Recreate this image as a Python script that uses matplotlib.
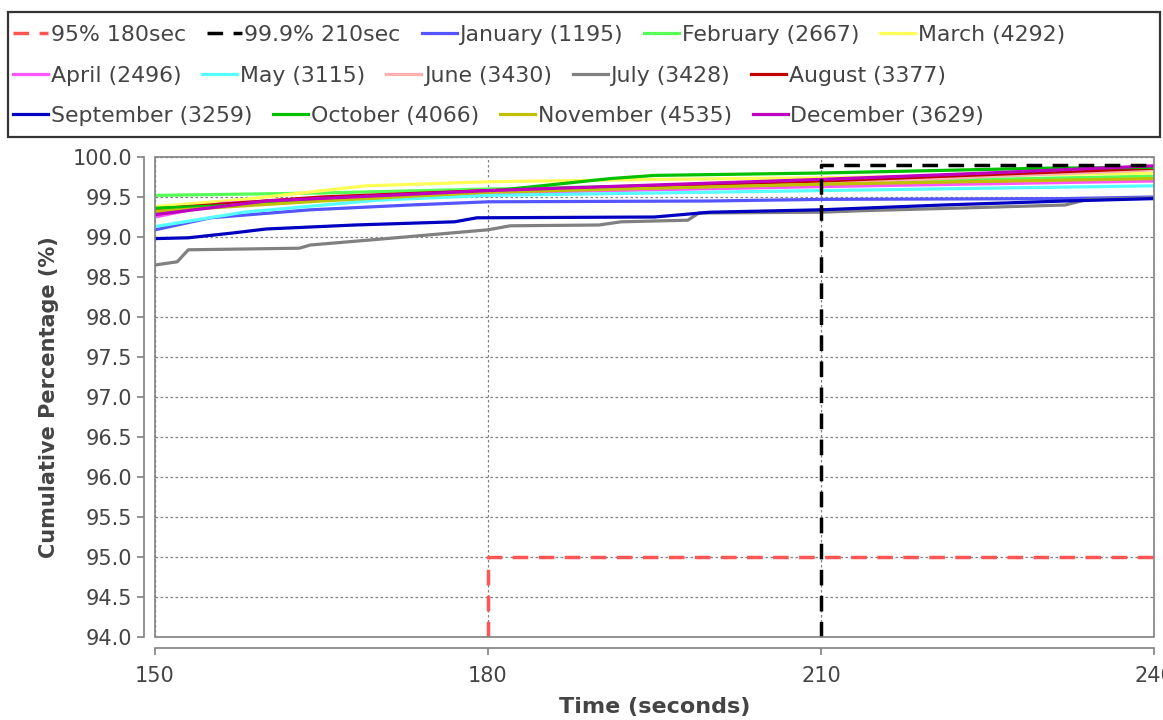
import matplotlib
matplotlib.use("Agg")
import matplotlib.pyplot as plt
from matplotlib.patches import Rectangle

# ── SLA reference thresholds (time in s, cumulative %) ───────────────────────
sla_95_time, sla_95_pct = 180, 95.0
sla_999_time, sla_999_pct = 210, 99.9

# ── Monthly cumulative completion curves (time s, cumulative %) ──────────────
months = ["January", "February", "March", "April", "May", "June",
          "July", "August", "September", "October", "November", "December"]
counts = [1195, 2667, 4292, 2496, 3115, 3430, 3428, 3377, 3259, 4066, 4535, 3629]
colors = ["#5555ff", "#55ff55", "#ffff55", "#ff55ff", "#55ffff", "#ffafaf",
          "#808080", "#c00000", "#0000c0", "#00c000", "#c0c000", "#c000c0"]

jan_t = [150, 155, 164, 173, 180, 200, 210, 232, 240]
jan_v = [99.09, 99.24, 99.34, 99.40, 99.44, 99.45, 99.47, 99.48, 99.50]
feb_t = [150, 165, 180, 210, 240]
feb_v = [99.52, 99.55, 99.60, 99.68, 99.76]
mar_t = [150, 158, 169, 180, 195, 210, 240]
mar_v = [99.38, 99.47, 99.64, 99.69, 99.72, 99.74, 99.80]
apr_t = [150, 156, 165, 180, 210, 240]
apr_v = [99.25, 99.42, 99.48, 99.55, 99.63, 99.70]
may_t = [150, 158, 170, 180, 210, 240]
may_v = [99.13, 99.31, 99.46, 99.52, 99.58, 99.64]
jun_t = [150, 160, 180, 210, 240]
jun_v = [99.30, 99.45, 99.58, 99.67, 99.84]
jul_t = [150, 152, 153, 163, 164, 170, 180, 182, 190, 192, 198, 199, 210, 214, 222, 232, 234, 240]
jul_v = [98.65, 98.69, 98.84, 98.86, 98.90, 98.97, 99.09, 99.14, 99.15, 99.19, 99.21, 99.30,
         99.31, 99.33, 99.36, 99.40, 99.47, 99.49]
aug_t = [150, 165, 180, 210, 240]
aug_v = [99.35, 99.50, 99.58, 99.70, 99.86]
sep_t = [150, 153, 157, 160, 168, 177, 179, 195, 200, 210, 221, 232, 240]
sep_v = [98.98, 98.99, 99.05, 99.10, 99.15, 99.19, 99.24, 99.25, 99.31, 99.34, 99.40, 99.45, 99.48]
oct_t = [150, 158, 170, 180, 191, 195, 210, 230, 240]
oct_v = [99.36, 99.40, 99.50, 99.57, 99.73, 99.77, 99.80, 99.86, 99.87]
nov_t = [150, 165, 180, 210, 240]
nov_v = [99.32, 99.45, 99.56, 99.66, 99.73]
dec_t = [150, 160, 180, 210, 225, 240]
dec_v = [99.28, 99.45, 99.58, 99.72, 99.80, 99.89]

month_times = [jan_t, feb_t, mar_t, apr_t, may_t, jun_t,
               jul_t, aug_t, sep_t, oct_t, nov_t, dec_t]
month_values = [jan_v, feb_v, mar_v, apr_v, may_v, jun_v,
                jul_v, aug_v, sep_v, oct_v, nov_v, dec_v]

x_min, x_max = 150, 240
y_min, y_max = 94.0, 100.0
x_ticks = [150, 180, 210, 240]
y_ticks = [94.0 + 0.5 * i for i in range(13)]

W, H = 1163, 720
fig = plt.figure(figsize=(W / 100, H / 100), dpi=100)
ax = fig.add_axes([155 / W, 83 / H, 999 / W, 480 / H])

text_col = "#444444"
axis_col = "#808080"

# threshold lines: rise at the SLA time, then hold the target level
lines = []
l95, = ax.plot([sla_95_time, sla_95_time, x_max], [y_min, sla_95_pct, sla_95_pct],
               color="#ff5555", lw=2.5, dashes=(4.5, 3), zorder=4,
               label=f"{sla_95_pct:g}% {sla_95_time}sec")
l999, = ax.plot([sla_999_time, sla_999_time, x_max], [y_min, sla_999_pct, sla_999_pct],
                color="black", lw=2.5, dashes=(4.5, 3), zorder=4,
                label=f"{sla_999_pct:g}% {sla_999_time}sec")
lines += [l95, l999]

for name, n, c, t, v in zip(months, counts, colors, month_times, month_values):
    ln, = ax.plot(t, v, color=c, lw=2.3, label=f"{name} ({n})", zorder=3)
    lines.append(ln)

ax.set_xlim(x_min, x_max)
ax.set_ylim(y_min, y_max)
ax.set_xticks(x_ticks)
ax.set_yticks(y_ticks)
ax.set_yticklabels([f"{y:.1f}" for y in y_ticks])
ax.tick_params(labelsize=15, colors=axis_col, labelcolor=text_col, length=5, width=1.2)
ax.tick_params(axis="x", pad=8)

ax.grid(True, color="#808080", lw=0.9, dashes=(2, 2))
ax.set_axisbelow(True)

for side in ("top", "right"):
    ax.spines[side].set_visible(False)
for side in ("left", "bottom"):
    ax.spines[side].set_position(("outward", 8))
    ax.spines[side].set_color(axis_col)
    ax.spines[side].set_linewidth(1.2)

# plot outline
ax.add_patch(Rectangle((0, 0), 1, 1, transform=ax.transAxes, fill=False,
                       ec=axis_col, lw=1.2, zorder=5, clip_on=False))

ax.set_xlabel("Time (seconds)", fontsize=16, fontweight="bold", color=text_col, labelpad=8)
ax.set_ylabel("Cumulative Percentage (%)", fontsize=15, fontweight="bold", color=text_col, labelpad=10)

# ── Legend: three flowing rows inside one box ────────────────────────────────
rows = [lines[0:5], lines[5:10], lines[10:14]]
row_y = [35, 76, 116]
for handles, yc in zip(rows, row_y):
    fig.legend(handles=handles, loc="center left", bbox_to_anchor=(13 / W, 1 - yc / H),
               ncol=len(handles), frameon=False, fontsize=15.8, handlelength=1.6,
               handletextpad=0.12, columnspacing=0.95, borderpad=0, borderaxespad=0,
               labelcolor=text_col)

fig.patches.append(Rectangle((8 / W, 1 - 137 / H), 1152 / W, 125 / H, transform=fig.transFigure,
                             fill=False, ec="#333333", lw=1.6))

fig.savefig("out.png", dpi=100)
